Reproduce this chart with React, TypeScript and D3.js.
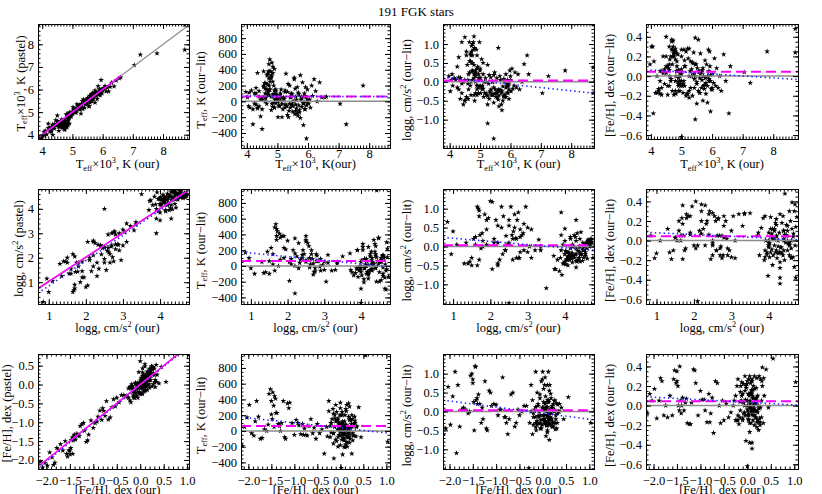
import React, { useEffect, useRef } from 'react';
import * as d3 from 'd3';

// ---- star parameters (ours) ----
// groups: metal-poor giants, intermediate, clump giants, K dwarfs, G dwarfs, hot, misc
const teffOur = [
  4.45, 4.60, 4.30, 4.80, 4.25, 4.40, 5.25, 4.75, 4.55, 4.20, 4.35, 4.50, 4.60, 4.70, 4.72, 4.75, 4.78, 4.68, 4.65, 4.82, 4.80, 4.50, 4.85, 4.90, 4.62, 4.58, 4.95, 4.40, 5.00, 4.30,
  4.55, 4.35, 4.50, 4.68, 4.72, 4.85, 5.10, 5.30, 4.90, 5.00, 5.60, 5.45, 4.95, 5.70, 5.50, 4.80, 4.75, 5.85, 5.20, 5.90, 4.90, 5.40, 6.00, 7.25, 4.60, 5.05,
  4.85, 4.70, 5.00, 4.90, 4.75, 4.65, 5.10, 4.80, 4.95, 4.60, 4.72, 4.88, 4.78, 5.05, 4.68, 4.82, 4.92, 5.15, 4.70, 4.85, 4.98, 4.76, 4.90, 4.62, 5.00, 4.80, 4.95, 4.73, 5.08, 4.86, 5.20, 5.25, 4.55, 4.66, 4.50,
  3.97, 4.02, 4.06, 4.10, 4.15, 4.20, 4.25, 4.30, 4.35, 4.40, 4.08, 4.45,
  5.02, 5.08, 5.12, 5.18, 5.22, 5.28, 5.30, 5.33, 5.36, 5.40, 5.42, 5.45, 5.48, 5.50, 5.52, 5.55, 5.57, 5.60, 5.62, 5.65, 5.67, 5.70, 5.72, 5.75, 5.77, 5.80, 5.82, 5.85, 5.88, 5.90, 5.93, 5.95, 5.98, 6.02, 6.05, 6.08, 6.12, 6.15, 6.20, 6.25, 6.30, 6.38, 6.45, 6.55, 6.60, 5.25, 5.38, 5.58, 5.15, 5.65, 5.55, 5.45, 5.85, 5.35, 5.10, 5.75, 5.92, 6.00,
  7.05, 7.80, 8.72, 8.72,
  4.90, 5.00,
  5.50, 5.62, 5.72, 5.80, 5.33, 5.90, 5.42, 5.68, 5.60, 5.95, 5.25, 5.78, 4.85, 4.95,
  5.95, 5.45, 5.00,
];
const loggOur = [
  2.05, 1.30, 0.85, 1.70, 1.00, 1.65, 3.50, 1.90, 1.45, 1.10, 1.35, 1.60, 1.75, 1.80, 1.70, 1.68, 1.85, 1.95, 1.60, 1.65, 2.00, 2.05, 1.72, 1.78, 1.55, 1.90, 2.10, 1.50, 2.20, 0.95,
  1.70, 1.40, 1.50, 2.20, 2.30, 1.80, 2.60, 3.30, 2.40, 2.50, 3.90, 4.10, 2.70, 3.72, 4.30, 2.80, 2.65, 4.00, 3.10, 4.20, 2.90, 4.40, 4.30, 4.00, 1.90, 3.00,
  2.75, 2.50, 2.85, 2.60, 2.45, 2.30, 3.00, 2.70, 2.80, 2.20, 2.35, 2.65, 2.55, 2.90, 2.40, 2.75, 2.62, 3.05, 2.25, 2.80, 2.95, 2.58, 2.72, 2.33, 2.88, 2.50, 2.78, 2.42, 3.20, 2.68, 3.35, 3.10, 2.15, 2.50, 2.20,
  4.62, 4.55, 4.68, 4.50, 4.60, 4.65, 4.55, 4.70, 4.48, 4.58, 4.72, 4.66,
  4.50, 4.55, 4.40, 4.60, 4.35, 4.48, 3.95, 4.25, 4.42, 4.05, 4.52, 4.30, 4.15, 4.60, 4.00, 4.38, 4.20, 4.45, 3.85, 4.28, 4.55, 4.10, 3.92, 4.35, 4.47, 4.22, 4.05, 4.40, 4.30, 4.15, 4.50, 3.98, 4.25, 4.10, 4.33, 4.18, 3.90, 4.28, 4.05, 4.40, 4.12, 4.20, 4.00, 4.30, 4.15, 3.75, 3.80, 3.70, 3.88, 4.65, 4.70, 4.62, 4.68, 4.72, 4.20, 4.08, 4.38, 3.95,
  4.10, 3.90, 4.43, 4.75,
  4.00, 3.35,
  4.25, 4.12, 4.20, 4.32, 4.08, 4.02, 4.18, 4.42, 4.02, 4.15, 4.30, 4.55, 4.40, 4.60,
  4.00, 2.50, 2.10,
];
const fehOur = [
  -2.13, -2.08, -2.03, -1.98, -1.93, -1.88, -1.85, -1.82, -1.78, -1.74, -1.70, -1.65, -1.60, -1.57, -1.55, -1.52, -1.50, -1.50, -1.48, -1.47, -1.45, -1.44, -1.43, -1.41, -1.40, -1.38, -1.35, -1.32, -1.30, -1.28,
  -1.24, -1.21, -1.19, -1.15, -1.12, -1.10, -1.05, -1.00, -0.96, -0.90, -0.86, -0.82, -0.78, -0.75, -0.72, -0.68, -0.64, -0.60, -0.57, -0.53, -0.50, -0.45, -0.40, -0.35, -0.92, -0.80,
  -0.28, -0.25, -0.22, -0.20, -0.18, -0.15, -0.12, -0.10, -0.08, -0.05, -0.03, -0.01, 0.00, 0.02, 0.03, 0.05, 0.06, 0.08, 0.09, 0.10, 0.12, 0.13, 0.15, 0.16, 0.18, 0.20, 0.22, 0.25, 0.28, 0.30, 0.35, -0.06, 0.04, 0.14, -0.14,
  -0.10, 0.05, 0.15, -0.05, 0.20, 0.25, -0.20, 0.10, 0.00, 0.32, 0.05, 0.18,
  -0.05, 0.12, 0.22, 0.08, -0.02, 0.18, 0.30, 0.05, 0.15, -0.12, 0.25, 0.10, 0.02, -0.08, 0.20, 0.12, -0.15, 0.28, 0.07, 0.18, 0.00, 0.24, 0.14, -0.10, 0.09, 0.34, 0.04, 0.16, -0.20, 0.21, 0.11, -0.03, 0.26, 0.06, -0.06, 0.19, 0.01, 0.13, -0.16, 0.23, 0.03, -0.08, 0.17, 0.10, 0.36, -0.22, 0.08, -0.12, 0.27, 0.20, 0.40, 0.32, 0.05, -0.15, 0.12, 0.10, 0.31, 0.02,
  -0.15, 0.10, 0.55, 1.03,
  0.45, 0.10,
  0.08, 0.15, 0.03, 0.22, 0.12, 0.09, 0.18, -0.04, 0.27, 0.13, 0.20, 0.06, -0.25, 0.00,
  0.02, -0.30, 0.00,
];

// ---- differences, ours minus literature ----
const dTeff = [
  -190, 50, 170, 330, -30, -60, 120, 380, 180, -100, -90, 20, 0, 80, 470, 530, 380, 210, 150, 490, 320, 50, 440, 410, 230, 230, 90, 60, 0, 100,
  380, -80, -100, 350, 290, 360, 100, -50, 140, 70, -40, 90, 30, -50, -60, 60, 150, -30, 40, -100, 90, -30, 20, -290, 100, -50,
  -70, 380, 60, -20, 150, -30, 50, -110, 130, 160, 80, 200, 290, -60, 100, -30, 20, -200, 120, 60, 10, 250, -80, 40, -10, 310, 150, 200, -60, 90, 50, 140, 200, 330, -350,
  120, 50, -60, -80, 140, -290, 100, -40, 360, 130, 110, 20,
  -200, 80, 150, -100, 30, 350, -60, 120, -200, 200, 50, -40, 90, -130, 0, 280, -160, 60, -90, 180, -180, 90, -140, 330, 20, -70, 240, -20, 100, -100, 50, -50, 150, -30, 20, -80, 200, 70, 280, 130, 0, 240, 50, 50, 60, -80, -120, 160, -30, -150, 300, 100, -300, 220, 10, -210, 180, -10,
  -30, 200, 960, -138,
  -80, 30,
  -50, 20, -110, 40, -170, 70, -80, 110, -120, 0, -40, 60, 250, -20,
  -470, 50, 20,
];
const dLogg = [
  -0.60, -0.45, 0.65, -0.35, 0.40, 1.05, -1.10, 0.70, -0.40, 0.05, 0.10, 0.05, -0.05, 0.00, 0.95, 1.00, 0.85, 0.75, 0.25, -0.50, 1.20, 1.18, 0.30, 0.35, 0.20, 0.45, 0.20, -0.30, 0.10, -0.20,
  0.80, -0.45, -0.50, 0.55, 0.50, 0.15, 0.20, 0.18, -0.10, 0.05, 0.90, -0.15, -0.30, -0.60, -0.20, 0.45, 0.50, -0.40, -0.30, 0.05, -0.10, 0.00, 0.15, 0.15, 0.05, -0.15,
  -0.30, 0.70, 0.30, -0.35, 0.05, 1.05, 0.50, 0.20, -0.15, -0.45, 0.80, 0.85, 1.05, 0.60, -0.10, 0.90, 0.40, 0.00, -0.35, 0.25, 1.05, 0.30, 0.70, -0.20, 0.35, 0.10, -0.30, 0.28, -0.10, 0.22, 0.00, 0.45, 0.70, 0.55, -0.50,
  0.15, -0.25, 0.05, -0.10, 0.10, 0.05, -0.15, 0.12, 0.10, -0.05, 0.20, 0.00,
  -0.30, -0.20, -0.40, 0.10, -0.35, -0.05, -0.45, -0.25, -0.20, -0.35, 0.00, -0.55, 0.25, -0.32, -0.40, -0.30, -0.42, -0.20, -0.65, -0.22, 0.05, -0.30, -0.75, -0.12, -0.38, 0.00, -0.33, -0.15, -0.05, -0.28, -0.10, -0.45, 0.30, -0.25, 0.35, -0.18, -0.10, 0.25, -0.15, 0.20, -0.20, 0.00, 0.47, 0.70, 0.20, -0.60, -0.35, -0.25, -0.30, 0.15, 0.10, 0.18, 0.20, 0.12, -0.18, -0.50, -0.30, 0.05,
  -0.30, 0.30, 0.38, -0.30,
  -0.20, -0.10,
  -0.30, -0.36, -0.25, -0.40, -0.28, -0.12, -0.33, -0.22, -0.47, -0.05, -0.38, 0.08, 0.00, 0.10,
  -0.20, -1.50, 0.10,
];
const dFeh = [
  -0.08, 0.12, 0.05, 0.17, -0.13, 0.05, 0.28, 0.25, -0.10, 0.00, -0.12, 0.10, -0.10, 0.27, 0.36, 0.23, 0.25, 0.35, 0.20, 0.00, -0.05, 0.40, 0.05, -0.08, 0.00, 0.08, -0.05, 0.03, 0.07, -0.18,
  -0.19, -0.19, 0.03, 0.37, 0.36, 0.23, -0.10, 0.15, 0.06, -0.05, -0.17, 0.12, -0.08, 0.08, -0.28, 0.25, 0.23, 0.00, -0.18, 0.05, -0.15, 0.02, -0.12, -0.07, 0.06, -0.17,
  0.05, -0.15, 0.20, -0.10, -0.19, -0.05, 0.10, -0.15, 0.03, 0.30, 0.20, 0.22, 0.25, -0.08, 0.27, -0.18, 0.05, 0.25, 0.12, 0.15, -0.10, 0.20, -0.06, 0.17, 0.02, 0.28, -0.15, 0.30, 0.27, 0.05, 0.28, 0.00, 0.10, -0.03, 0.20,
  0.12, 0.30, 0.30, 0.15, -0.17, -0.17, -0.15, -0.05, 0.05, 0.20, -0.38, 0.07,
  -0.10, -0.05, 0.10, -0.18, 0.18, 0.05, -0.12, 0.00, -0.20, 0.24, -0.03, -0.44, 0.12, -0.08, 0.08, -0.15, 0.04, -0.02, 0.23, -0.12, -0.04, -0.25, 0.00, -0.13, 0.16, -0.18, 0.12, -0.10, 0.27, -0.05, 0.10, -0.36, -0.13, 0.02, -0.07, 0.18, -0.10, 0.08, -0.12, 0.00, -0.15, 0.22, -0.05, -0.38, 0.10, -0.15, 0.13, 0.05, -0.20, 0.04, 0.37, 0.39, -0.27, 0.14, 0.16, -0.09, 0.25, -0.14,
  0.04, 0.25, 0.48, 0.24,
  -0.02, 0.27,
  -0.06, 0.02, -0.10, -0.07, 0.07, -0.03, -0.12, 0.06, -0.17, 0.01, -0.22, -0.02, 0.10, 0.00,
  -0.05, 0.00, -0.62,
];

// mean offsets (magenta dashed) and linear fits (blue dotted)
const offTeff = 62;
const offLogg = 0.035;
const offFeh = 0.045;
const fitTeffRow = [[3.85, 3.85, 6.6, 6.6], [3.81, 68, 8.7, 60], [3.78, 0.12, 8.75, -0.3], [3.84, 0.065, 8.81, -0.035]];
const fitLoggRow = [[0.71, 0.55, 4.78, 4.75], [0.73, 175, 4.79, -10], [0.73, 0.24, 4.78, -0.1], [0.72, 0.085, 4.78, 0.01]];
const fitFehRow = [[-2.18, -2.22, 0.85, 0.83], [-2.16, 175, 1.08, -30], [-2.14, 0.3, 1.1, -0.22], [-2.16, 0.09, 1.08, 0.005]];
const oneToOneSpan = [[3.85, 6.6], [0.73, 4.72], [-2.18, 0.85]];

const FONT = '"Liberation Serif", "Times New Roman", serif';
const FS = 12.5;

// plot boxes in px
const colX = [[38, 189], [241, 390], [443, 594], [646, 798]];
const rowY = [[24, 139], [189, 304], [354, 469]];

const xDomains = [
  [[3.86, 8.86], [3.81, 8.68], [3.78, 8.75], [3.84, 8.81]],
  [[0.71, 4.78], [0.73, 4.79], [0.73, 4.78], [0.72, 4.78]],
  [[-2.18, 1.04], [-2.16, 1.08], [-2.14, 1.1], [-2.16, 1.08]],
];
const yDomains = [
  [[3.81, 8.9], [-590, 979], [-1.75, 1.53], [-0.64, 0.53]],
  [[0.11, 4.81], [-484, 977], [-1.52, 1.52], [-0.648, 0.527]],
  [[-2.24, 0.81], [-484, 977], [-1.52, 1.52], [-0.648, 0.527]],
];

type Part = [string, number];
const teffLab = (s: string): Part[] => [['T', 0], ['eff', -1], ['×10', 0], ['3', 1], [s, 0]];
const loggLab = (s: string): Part[] => [['logg, cm/s', 0], ['2', 1], [s, 0]];
const fehLab = (s: string): Part[] => [['[Fe/H], dex' + s, 0]];

function rich(sel: any, parts: Part[], size: number) {
  const off = (k: number) => (k < 0 ? 0.22 * size : k > 0 ? -0.4 * size : 0);
  let prev = 0;
  parts.forEach(([t, k]) => {
    sel.append('tspan')
      .attr('dy', off(k) - off(prev))
      .attr('font-size', k === 0 ? size : size * 0.66)
      .text(t);
    prev = k;
  });
}

function stepValues(d: number[], step: number) {
  const a = Math.ceil(d[0] / step - 1e-9), b = Math.floor(d[1] / step + 1e-9);
  return d3.range(a, b + 1).map(k => +(k * step).toFixed(6));
}

export default function App() {
  const ref = useRef<SVGSVGElement>(null);

  useEffect(() => {
    const svg = d3.select(ref.current);
    svg.selectAll('*').remove();
    const N = Math.min(teffOur.length, loggOur.length, fehOur.length, dTeff.length, dLogg.length, dFeh.length);
    const idx = d3.range(N);

    const xVals = [teffOur, loggOur, fehOur];
    const diffs = [dTeff.map(v => v / 1000), dLogg, dFeh];
    const fits = [fitTeffRow, fitLoggRow, fitFehRow];
    const offs = [offTeff, offLogg, offFeh];

    const xMajor = [[4, 5, 6, 7, 8], [1, 2, 3, 4], [-2, -1.5, -1, -0.5, 0, 0.5, 1]];
    const xFmt = [d3.format('d'), d3.format('d'), d3.format('.1f')];
    const y0Major = [[4, 5, 6, 7, 8], [1, 2, 3, 4], [-2, -1.5, -1, -0.5, 0, 0.5]];
    const y0Fmt = [d3.format('d'), d3.format('d'), d3.format('.1f')];
    const y0Minor = [0.2, 0.2, 0.1];
    const colMajor = [null, [-400, -200, 0, 200, 400, 600, 800], [-1, -0.5, 0, 0.5, 1], [-0.6, -0.4, -0.2, 0, 0.2, 0.4]];
    const colMinor = [0, 50, 0.1, 0.05];
    const colFmt = [null, d3.format('d'), d3.format('.1f'), d3.format('.1f')];

    const xTitles = [
      [teffLab(', K (our)'), teffLab(', K(our)'), teffLab(', K (our)'), teffLab(', K (our)')],
      [loggLab(' (our)'), loggLab(' (our)'), loggLab(' (our)'), loggLab(' (our)')],
      [fehLab(' (our)'), fehLab(' (our)'), fehLab(' (our)'), fehLab(' (our)')],
    ];
    const y0Titles = [teffLab(', K (pastel)'), loggLab(' (pastel)'), fehLab(' (pastel)')];
    const colTitles = [null, [['T', 0], ['eff', -1], [', K (our\u2212lit)', 0]] as Part[], loggLab(' (our\u2212lit)'), fehLab(' (our\u2212lit)')];
    // centre x of the rotated y titles; first column depends on the row
    const y0TitleX = [20, 18, 6];
    const yTitleX = [0, 200, 406, 609];
    const xTitleY = [168, 332, 494];

    const star = d3.symbol().type(d3.symbolStar).size(10)();

    const styleAxis = (g: any) => {
      g.attr('font-family', FONT).attr('font-size', FS);
      g.select('.domain').remove();
      g.selectAll('line').attr('stroke', '#000');
    };

    for (let r = 0; r < 3; r++) {
      for (let c = 0; c < 4; c++) {
        const pid = r * 4 + c;
        const left = colX[c][0], right = colX[c][1];
        const top = rowY[r][0];
        const bottom = r === 0 && (c === 1 || c === 2) ? 148 : rowY[r][1];
        const x = d3.scaleLinear().domain(xDomains[r][c]).range([left, right]);
        const y = d3.scaleLinear().domain(yDomains[r][c]).range([bottom, top]);
        const xv = xVals[r];
        const yv = c === 0 ? idx.map(i => xv[i] - diffs[r][i])
          : c === 1 ? dTeff : c === 2 ? dLogg : dFeh;

        const g = svg.append('g');
        g.append('clipPath').attr('id', 'clip' + pid)
          .append('rect').attr('x', left).attr('y', top).attr('width', right - left).attr('height', bottom - top);
        const plot = g.append('g').attr('clip-path', `url(#clip${pid})`);

        // points
        plot.selectAll('path.pt').data(idx).join('path')
          .attr('class', 'pt')
          .attr('d', star)
          .attr('fill', '#000')
          .attr('transform', (i: number) => `translate(${x(xv[i])},${y(yv[i])})`);

        const line = d3.line<number[]>().x(d => x(d[0])).y(d => y(d[1]));
        const xd = xDomains[r][c];
        const f = fits[r][c];
        if (c === 0) {
          plot.append('path').attr('d', line([[xd[0], xd[0]], [xd[1], xd[1]]]))
            .attr('stroke', '#8c8c8c').attr('stroke-width', 1.2).attr('fill', 'none');
          plot.append('path').attr('d', line([[f[0], f[1]], [f[2], f[3]]]))
            .attr('stroke', '#2222ff').attr('stroke-width', 1.6).attr('stroke-dasharray', '1.4,3')
            .attr('fill', 'none');
          const sp = oneToOneSpan[r];
          plot.append('path').attr('d', line([[sp[0], sp[0] + (r === 1 ? 0.04 : 0)], [sp[1], sp[1]]]))
            .attr('stroke', '#ff00ff').attr('stroke-width', 1.5).attr('fill', 'none');
        } else {
          const off = offs[c - 1];
          plot.append('path').attr('d', line([[xd[0], 0], [xd[1], 0]]))
            .attr('stroke', '#8c8c8c').attr('stroke-width', 1.5).attr('fill', 'none');
          plot.append('path').attr('d', line([[xd[0], off], [xd[1], off]]))
            .attr('stroke', '#ff00ff').attr('stroke-width', 2).attr('stroke-dasharray', '10,5')
            .attr('fill', 'none');
          plot.append('path').attr('d', line([[f[0], f[1]], [f[2], f[3]]]))
            .attr('stroke', '#2222ff').attr('stroke-width', 1.6).attr('stroke-dasharray', '1.4,3')
            .attr('fill', 'none');
        }

        // box
        g.append('rect').attr('x', left + 0.5).attr('y', top + 0.5)
          .attr('width', right - left).attr('height', bottom - top)
          .attr('fill', 'none').attr('stroke', '#000').attr('stroke-width', 1);

        // axes: major & minor ticks, mirrored inside the box
        const xMaj = xMajor[r];
        const xMin = stepValues(xd, 0.1);
        const yMaj = c === 0 ? y0Major[r] : (colMajor[c] as number[]);
        const yMin = stepValues(yDomains[r][c], c === 0 ? y0Minor[r] : colMinor[c]);
        const yF = c === 0 ? y0Fmt[r] : (colFmt[c] as any);
        const pad = r === 0 ? (c === 1 || c === 2 ? 1.5 : 7.5) : 7;

        g.append('g').attr('transform', `translate(0,${bottom})`)
          .call(d3.axisBottom(x).tickValues(xMaj).tickSize(-5).tickPadding(pad).tickFormat(xFmt[r] as any)).call(styleAxis);
        g.append('g').attr('transform', `translate(0,${bottom})`)
          .call(d3.axisBottom(x).tickValues(xMin).tickSize(-2.5).tickFormat(() => '')).call(styleAxis);
        g.append('g').attr('transform', `translate(0,${top})`)
          .call(d3.axisTop(x).tickValues(xMaj).tickSize(-5).tickFormat(() => '')).call(styleAxis);
        g.append('g').attr('transform', `translate(0,${top})`)
          .call(d3.axisTop(x).tickValues(xMin).tickSize(-2.5).tickFormat(() => '')).call(styleAxis);
        g.append('g').attr('transform', `translate(${left},0)`)
          .call(d3.axisLeft(y).tickValues(yMaj).tickSize(-5).tickPadding(4).tickFormat(yF)).call(styleAxis);
        g.append('g').attr('transform', `translate(${left},0)`)
          .call(d3.axisLeft(y).tickValues(yMin).tickSize(-2.5).tickFormat(() => '')).call(styleAxis);
        g.append('g').attr('transform', `translate(${right},0)`)
          .call(d3.axisRight(y).tickValues(yMaj).tickSize(-5).tickFormat(() => '')).call(styleAxis);
        g.append('g').attr('transform', `translate(${right},0)`)
          .call(d3.axisRight(y).tickValues(yMin).tickSize(-2.5).tickFormat(() => '')).call(styleAxis);

        // axis titles
        const xt = g.append('text').attr('x', (left + right) / 2 + (c === 0 ? 4 : 0)).attr('y', xTitleY[r])
          .attr('text-anchor', 'middle').attr('font-family', FONT).attr('font-size', FS);
        rich(xt, xTitles[r][c], FS);
        const yc = (top + bottom) / 2 + (c === 0 ? 2 : 4);
        const tx = (c === 0 ? y0TitleX[r] : yTitleX[c]) + 4.5;
        const yt = g.append('text').attr('text-anchor', 'middle').attr('font-family', FONT).attr('font-size', FS)
          .attr('transform', `translate(${tx},${yc}) rotate(-90)`);
        rich(yt, c === 0 ? y0Titles[r] : (colTitles[c] as Part[]), FS);
      }
    }

    svg.append('text').attr('x', 416).attr('y', 15.5).attr('text-anchor', 'middle')
      .attr('font-family', FONT).attr('font-size', 13).text('191 FGK stars');
  }, []);

  return (
    <svg ref={ref} width={822} height={494}
      style={{ position: 'absolute', left: 0, top: 0, background: '#fff' }} />
  );
}
